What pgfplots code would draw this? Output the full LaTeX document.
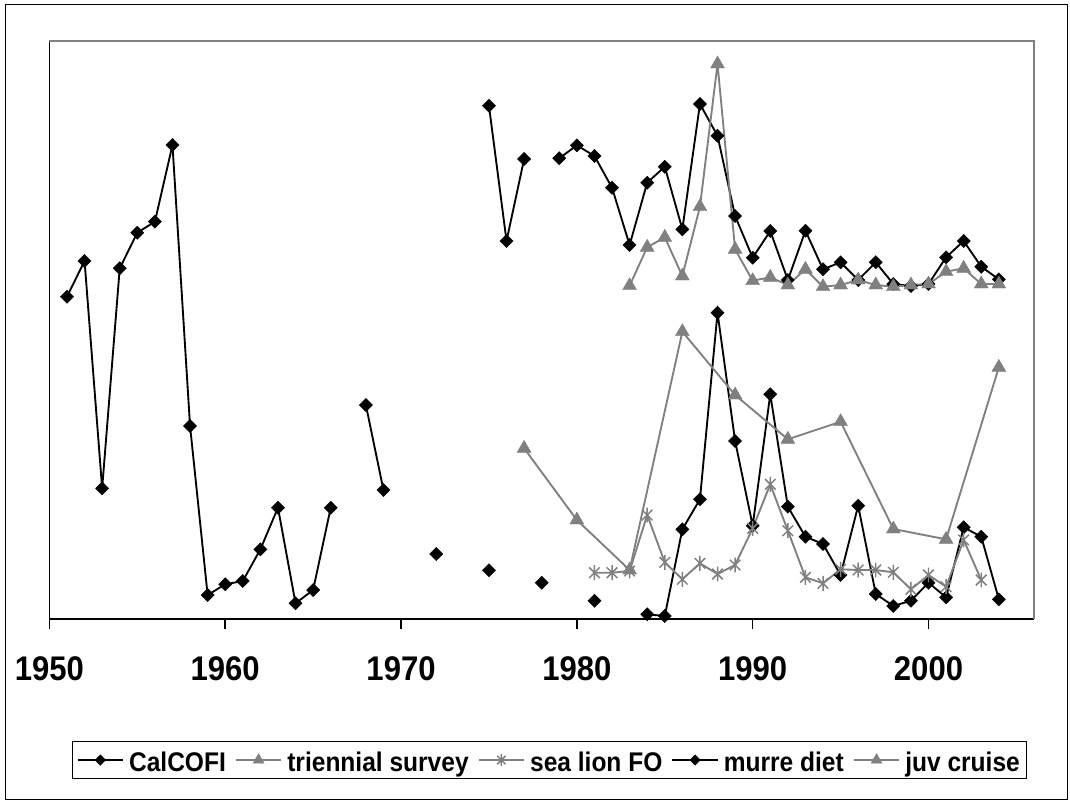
\documentclass[border=0pt]{standalone}
\usepackage{fontspec}
\setmainfont{Liberation Sans}
\usepackage{graphicx}
\usepackage{pgfplots}
\pgfplotsset{compat=1.18}
\definecolor{exgray}{RGB}{128,128,128}
\newcommand{\legtxt}[1]{\rule[-7pt]{0pt}{25pt}\scalebox{1}[1.1]{#1}}

\pgfdeclareplotmark{xstar}{%
  \pgfpathmoveto{\pgfqpoint{0pt}{\pgfplotmarksize}}%
  \pgfpathlineto{\pgfqpoint{0pt}{-\pgfplotmarksize}}%
  \pgfpathmoveto{\pgfqpoint{.7071\pgfplotmarksize}{.7071\pgfplotmarksize}}%
  \pgfpathlineto{\pgfqpoint{-.7071\pgfplotmarksize}{-.7071\pgfplotmarksize}}%
  \pgfpathmoveto{\pgfqpoint{-.7071\pgfplotmarksize}{.7071\pgfplotmarksize}}%
  \pgfpathlineto{\pgfqpoint{.7071\pgfplotmarksize}{-.7071\pgfplotmarksize}}%
  \pgfusepathqstroke}

\begin{document}
\begin{tikzpicture}
\begin{axis}[
  scale only axis, width=738.45pt, height=433.5pt,
  xmin=1950, xmax=2006, ymin=0, ymax=578,
  axis lines*=left,
  axis line style={black, line width=1.1pt},
  xtick={1950,1960,...,2000},
  xticklabels={\scalebox{1}[1.1]{1950},\scalebox{1}[1.1]{1960},\scalebox{1}[1.1]{1970},\scalebox{1}[1.1]{1980},\scalebox{1}[1.1]{1990},\scalebox{1}[1.1]{2000}},
  ytick=\empty,
  tick align=outside, major tick length=7.5pt,
  every tick/.style={black, line width=1.1pt},
  xticklabel style={font=\fontsize{23.3}{26}\selectfont\bfseries, yshift=-17pt},
  unbounded coords=jump,
  clip=false,
  legend columns=5,
  legend style={at={(0.9929,-0.244)}, anchor=east, draw=black, line width=0.75pt, fill=white,
    font=\fontsize{18.4}{20}\selectfont\bfseries, inner xsep=3pt, inner ysep=2pt,
    column sep=2pt, /tikz/every even column/.append style={column sep=5pt}},
  legend image code/.code={\draw[mark repeat=2, mark phase=2, #1, line width=1.1pt, every mark/.append style={scale=0.8}] plot coordinates {(0pt,0pt) (17pt,0pt) (34pt,0pt)};},
]
\coordinate (SW) at (rel axis cs:0,0);
\draw[exgray, line width=1.1pt] (rel axis cs:0,1) -- (rel axis cs:1,1) -- (rel axis cs:1,0);

% CalCOFI
\addplot[black, line width=1.4pt, mark=square*, mark size=3.5pt, mark options={rotate=45, line width=0.3pt}] coordinates {
(1951,322.3) (1952,358) (1953,130.7) (1954,350.7) (1955,386.3) (1956,397.3) (1957,474)
(1958,193) (1959,24) (1960,34.7) (1961,38) (1962,69.7) (1963,111.3) (1964,15.7) (1965,29)
(1966,111.3) (1967,nan) (1968,214) (1969,129) (1970,nan) (1972,65) (1973,nan) (1975,48.7)
(1976,nan) (1978,36.3) (1979,nan) (1981,18.3) (1982,nan) (1984,4.7) (1985,3) (1986,89.7)
(1987,119.7) (1988,306.3) (1989,178) (1990,93.3) (1991,224.7) (1992,112.3) (1993,82.3)
(1994,75) (1995,44) (1996,113.3) (1997,25) (1998,13) (1999,18.3) (2000,36.3) (2001,21.7)
(2002,91.7) (2003,82.3) (2004,19.7)};
\addlegendentry{\legtxt{CalCOFI}}

% triennial survey
\addplot[exgray, line width=1.4pt, mark=triangle*, mark size=6pt, mark options={line width=0.3pt}] coordinates {
(1977,170.7) (1980,99) (1983,49) (1986,287.3) (1989,224) (1992,179.7) (1995,197.3)
(1998,90) (2001,79.7) (2004,251.7)};
\addlegendentry{\legtxt{triennial survey}}

% sea lion FO
\addplot[exgray, line width=1.4pt, mark=xstar, mark size=5.6pt, mark options={line width=1.1pt}] coordinates {
(1981,46.3) (1982,46.3) (1983,48) (1984,104) (1985,56.7) (1986,39.7) (1987,55.7) (1988,45)
(1989,54) (1990,90.7) (1991,134.7) (1992,88.3) (1993,41.7) (1994,35.7) (1995,49.7) (1996,49)
(1997,49) (1998,46.7) (1999,29.7) (2000,44) (2001,32.3) (2002,79) (2003,39)};
\addlegendentry{\legtxt{sea lion FO}}

% murre diet
\addplot[black, line width=1.4pt, mark=square*, mark size=3.5pt, mark options={rotate=45, line width=0.3pt}] coordinates {
(1975,513.3) (1976,378) (1977,460) (1978,nan) (1979,460.7) (1980,473.7) (1981,463) (1982,431.3)
(1983,374) (1984,436.3) (1985,452.3) (1986,389.7) (1987,515) (1988,483.3) (1989,403)
(1990,361.3) (1991,388) (1992,339) (1993,388.3) (1994,349.7) (1995,356.7) (1996,339)
(1997,356.7) (1998,335) (1999,333) (2000,335) (2001,361.7) (2002,378) (2003,352.3) (2004,339.7)};
\addlegendentry{\legtxt{murre diet}}

% juv cruise
\addplot[exgray, line width=1.4pt, mark=triangle*, mark size=6pt, mark options={line width=0.3pt}] coordinates {
(1983,333.3) (1984,371.7) (1985,381.7) (1986,343) (1987,412.3) (1988,555) (1989,369.7)
(1990,338.3) (1991,341.7) (1992,334) (1993,349.7) (1994,332.3) (1995,334) (1996,339)
(1997,334) (1998,332.3) (1999,334) (2000,335) (2001,347.3) (2002,350.7) (2003,335) (2004,335)};
\addlegendentry{\legtxt{juv cruise}}
\end{axis}
\draw[black, line width=0.75pt] ([shift={(-33.3pt,-135pt)}]SW) rectangle ([shift={(763.2pt,460.9pt)}]SW);
\path[use as bounding box] ([shift={(-37.05pt,-136.5pt)}]SW) rectangle ([shift={(765.45pt,464.25pt)}]SW);
\end{tikzpicture}
\end{document}
